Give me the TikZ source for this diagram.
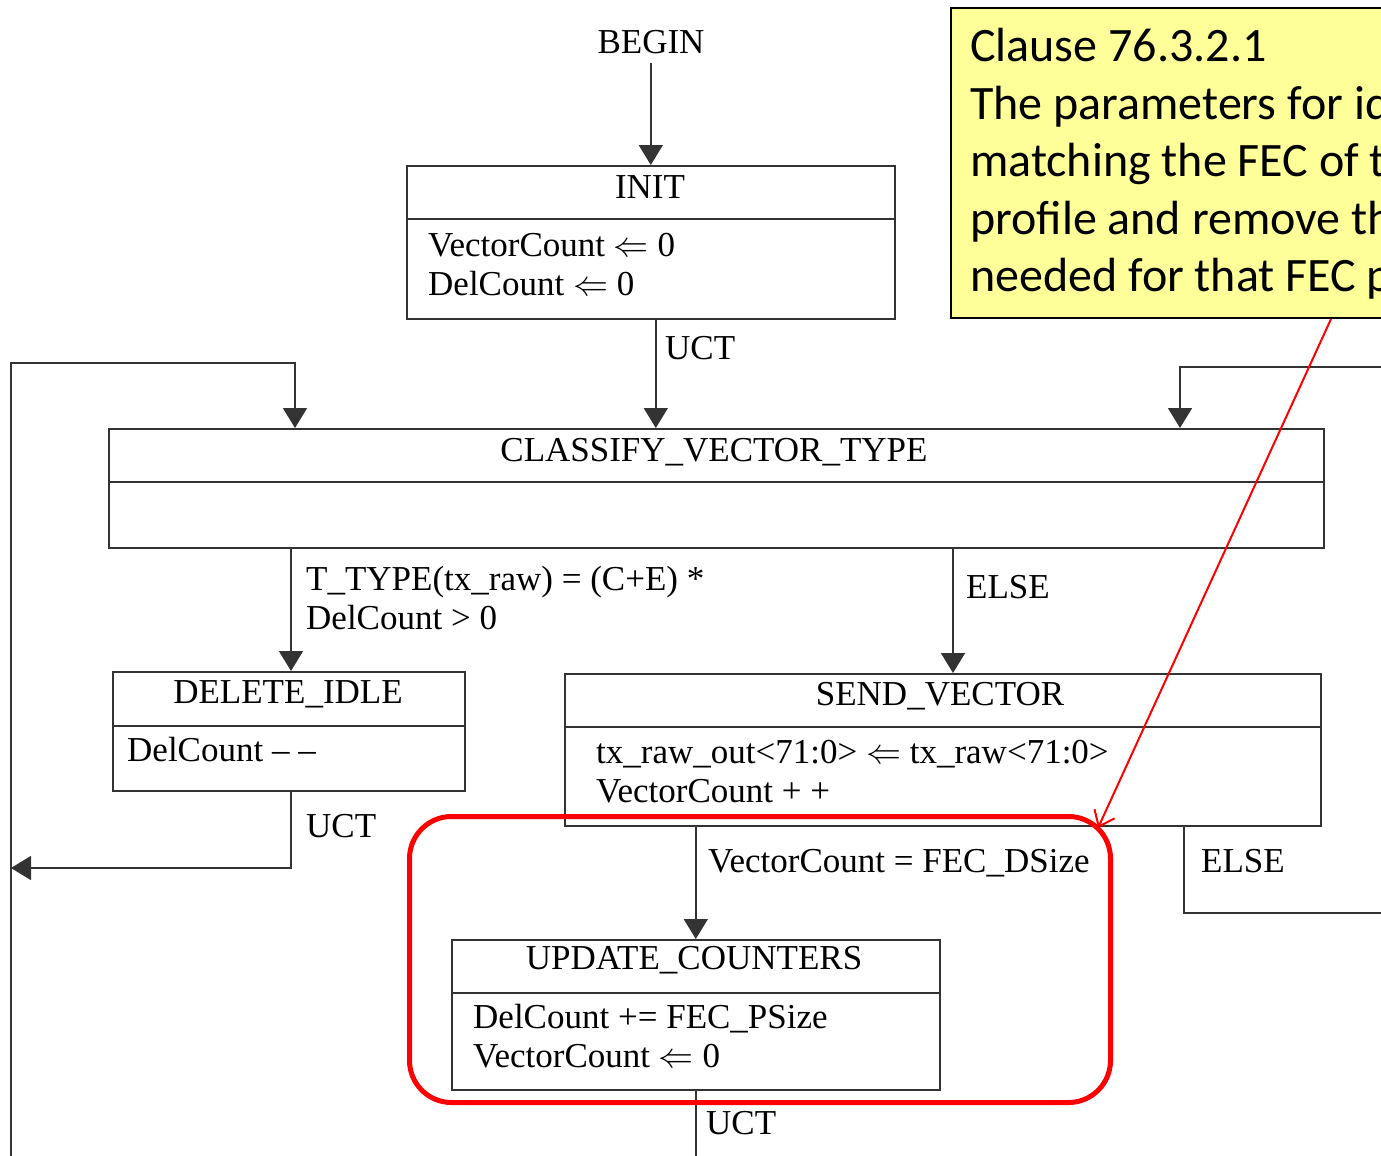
\documentclass[tikz,border=0pt]{standalone}
\usepackage{fix-cm}
\usepackage{fontspec}
\setmainfont{Liberation Serif}
\newfontfamily\calibri{Carlito}
\usetikzlibrary{arrows.meta}
\definecolor{noteyellow}{HTML}{FFFF99}
\tikzset{
  ln/.style={draw=black!80, line width=1.6pt},
  arr/.style={ln, -{Triangle[width=24pt,length=20pt]}},
  statebox/.style={draw=black!80, line width=1.6pt, rectangle, inner sep=0pt, anchor=north west},
  lbl/.style={font=\fontsize{35}{41}\selectfont, inner sep=0pt, anchor=base west},
  ttl/.style={font=\fontsize{35}{41}\selectfont, inner sep=0pt, anchor=base},
  notetxt/.style={font=\calibri\fontsize{48}{57}\selectfont, inner sep=0pt, anchor=base west},
  redbox/.style={draw=red, line width=5pt, rounded corners=42pt, rectangle, inner sep=0pt, anchor=north west},
  redarr/.style={draw=red, line width=2pt, -{Straight Barb[length=14pt,width=22pt]}},
}
\begin{document}
\begin{tikzpicture}[x=1pt,y=-1pt]
\useasboundingbox (0,0) rectangle (1381,1156);
\clip (0,0) rectangle (1381,1156);
\fill[white] (0,0) rectangle (1381,1156);

% BEGIN and INIT
\node[ttl] (begin) at (651,54) {BEGIN};
\node[statebox, minimum width=488pt, minimum height=153pt] (init) at (406,165) {};
\draw[ln] ([yshift=-54pt]init.north west) -- ([yshift=-54pt]init.north east);
\node[ttl] (initT) at (650,198) {INIT};
\node[lbl] (initB1) at (428,256) {VectorCount $\Leftarrow$ 0};
\node[lbl] (initB2) at (428,295) {DelCount $\Leftarrow$ 0};
\draw[arr] ([yshift=-8pt]init.north |- begin.south) -- (init.north);

% CLASSIFY_VECTOR_TYPE
\node[statebox, minimum width=1215pt, minimum height=119pt] (cvt) at (108,428) {};
\draw[ln] ([yshift=-54pt]cvt.north west) -- ([yshift=-54pt]cvt.north east);
\node[ttl] (cvtT) at (714,461) {CLASSIFY\_VECTOR\_TYPE};
\draw[arr] ([xshift=5pt]init.south) -- ([xshift=5pt]init.south |- cvt.north);
\node[lbl] (uct1) at (665,359) {UCT};

% DELETE_IDLE
\node[statebox, minimum width=352pt, minimum height=119pt] (di) at (112,671) {};
\draw[ln] ([yshift=-55pt]di.north west) -- ([yshift=-55pt]di.north east);
\node[ttl] (diT) at (288,703) {DELETE\_IDLE};
\node[lbl] (diB) at (127,761) {DelCount -- --};

% SEND_VECTOR
\node[statebox, minimum width=756pt, minimum height=152pt] (sv) at (564,673) {};
\draw[ln] ([yshift=-54pt]sv.north west) -- ([yshift=-54pt]sv.north east);
\node[ttl] (svT) at (940,705) {SEND\_VECTOR};
\node[lbl] (svB1) at (596,763) {tx\_raw\_out<71:0> $\Leftarrow$ tx\_raw<71:0>};
\node[lbl] (svB2) at (596,802) {VectorCount + +};

% UPDATE_COUNTERS
\node[statebox, minimum width=488pt, minimum height=150pt] (uc) at (451,939) {};
\draw[ln] ([yshift=-54pt]uc.north west) -- ([yshift=-54pt]uc.north east);
\node[ttl] (ucT) at (694,969) {UPDATE\_COUNTERS};
\node[lbl] (ucB1) at (473,1028) {DelCount += FEC\_PSize};
\node[lbl] (ucB2) at (473,1067) {VectorCount $\Leftarrow$ 0};

% transitions
\coordinate (cvtL) at (291,547);
\coordinate (cvtR) at (953,547);
\draw[arr] (cvtL) -- (cvtL |- di.north);
\node[lbl] (cond1a) at (306,590) {T\_TYPE(tx\_raw) = (C+E) *};
\node[lbl] (cond1b) at (306,629) {DelCount > 0};
\draw[arr] (cvtR) -- (cvtR |- sv.north);
\node[lbl] (else1) at (966,598) {ELSE};

% left loop
\coordinate (loopBot) at (11,1160);
\coordinate (loopTop) at (11,363);
\coordinate (loopIn) at (295,363);
\draw[arr] (loopBot) -- (loopTop) -- (loopIn) -- (loopIn |- cvt.north);

% DELETE_IDLE UCT back to left loop
\coordinate (diOut) at (291,790);
\coordinate (diTurn) at (291,868);
\coordinate (loopHit) at (11,868);
\draw[arr] (diOut) -- (diTurn) -- (loopHit);
\node[lbl] (uct2) at (306,837) {UCT};

% right loop
\coordinate (rIn) at (1385,367);
\coordinate (rTurn) at (1180,367);
\draw[arr] (rIn) -- (rTurn) -- (rTurn |- cvt.north);

% SEND_VECTOR -> UPDATE_COUNTERS
\draw[arr] (uc.north |- sv.south) -- (uc.north);
\node[lbl] (cond2) at (708,872) {VectorCount = FEC\_DSize};

% SEND_VECTOR ELSE
\coordinate (svE) at (1184,825);
\coordinate (svETurn) at (1184,913);
\coordinate (svEOut) at (1385,913);
\draw[ln] (svE) -- (svETurn) -- (svEOut);
\node[lbl] (else2) at (1201,872) {ELSE};

% UPDATE_COUNTERS UCT
\coordinate (ucOut) at (694,1160);
\draw[ln] (uc.south) -- (uc.south |- ucOut);
\node[lbl] (uct3) at (706,1134) {UCT};

% highlight and note
\node[redbox, minimum width=701pt, minimum height=286pt] (hl) at (407,814) {};
\node[draw=black, line width=2pt, fill=noteyellow, rectangle, inner sep=0pt, anchor=north west,
      minimum width=520pt, minimum height=310pt] (note) at (950,7) {};
\node[notetxt] (n1) at (970,62) {Clause 76.3.2.1};
\node[notetxt] (n2) at (970,119) {The parameters for id};
\node[notetxt] (n3) at (970,176) {matching the FEC of t};
\node[notetxt] (n4) at (970,234) {profile and remove th};
\node[notetxt] (n5) at (970,291) {needed for that FEC p};
\draw[redarr] ([xshift=381pt]note.south west) -- ([xshift=-15pt,yshift=-14pt]hl.north east);
\end{tikzpicture}
\end{document}
